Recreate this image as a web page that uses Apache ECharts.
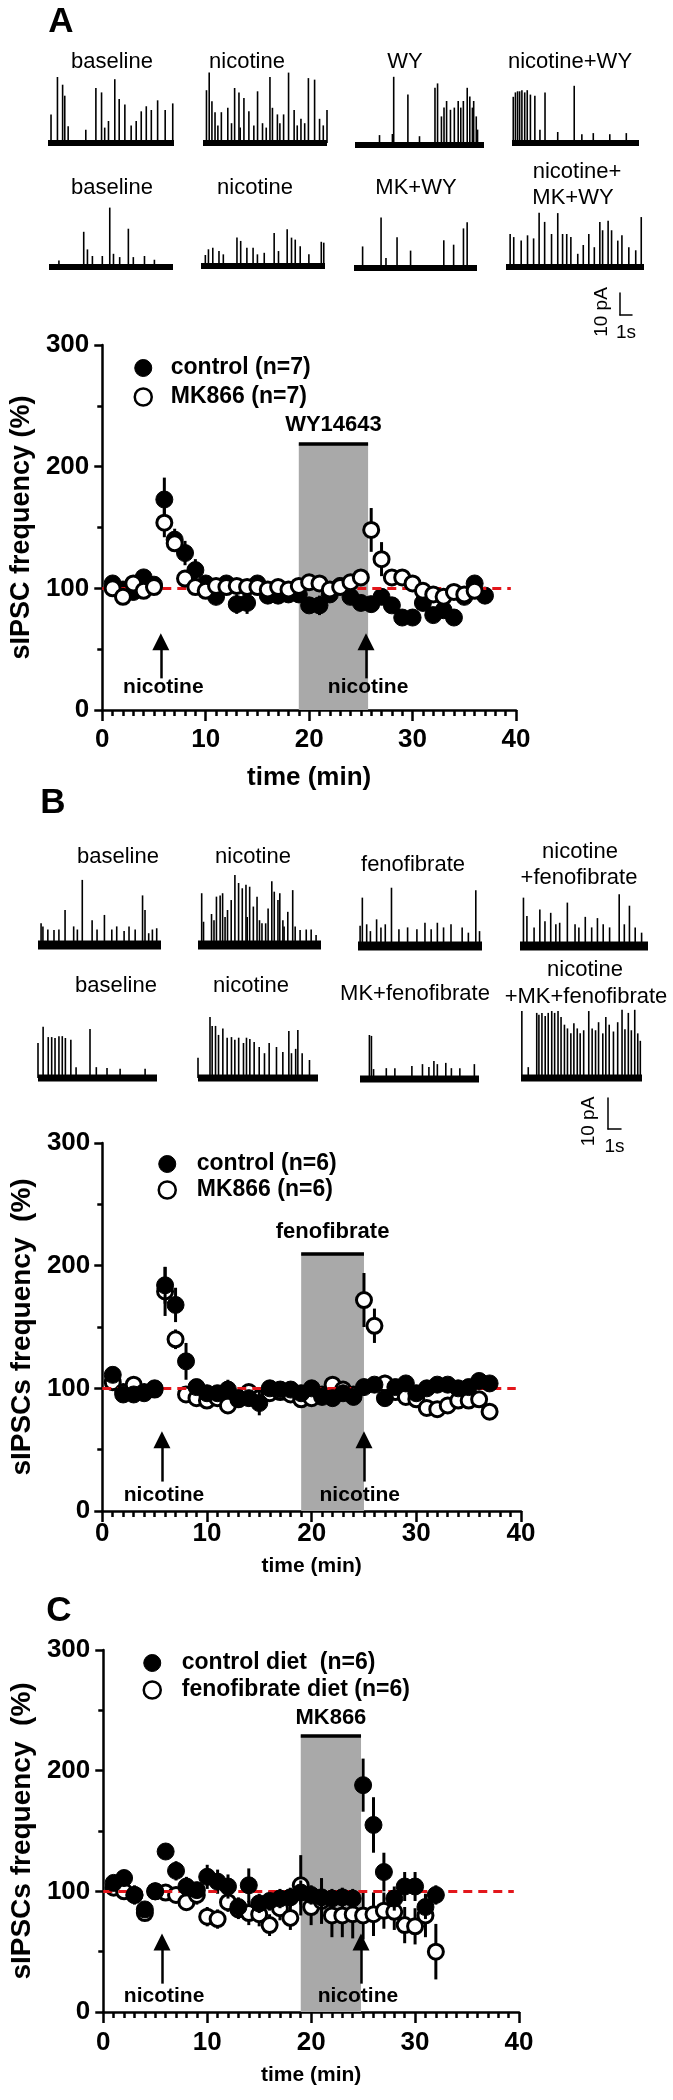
<!DOCTYPE html>
<html><head><meta charset="utf-8">
<script src="https://cdn.jsdelivr.net/npm/echarts@6/dist/echarts.min.js"></script>
<style>html,body{margin:0;padding:0;background:#fff}#c{width:673px;height:2100px}</style>
</head><body><div id="c"></div>
<script>
// ---------------- DATA ----------------
const xTicks = [0, 10, 20, 30, 40];
const xMinorStep = [1];
const yTicks = [0, 100, 200, 300];
const yMinorStep = [50];

// Panel A
const timeA_ctrl = [1,2,3,4,5,6,7,8,9,10,11,12,13,14,15,16,17,18,19,20,21,22,23,24,25,26,27,28,29,30,31,32,33,34,35,36,37];
const A_control = [104,99,97,109,103,173,140,129,115,104,93,104,87,88,104,94,94,95,95,86,86,95,102,93,88,87,93,86,76,76,88,78,82,76,93,104,94];
const A_controlErr = [4,4,5,6,4,18,9,10,9,6,5,5,8,9,5,5,5,5,5,6,8,5,6,5,5,5,6,5,5,5,5,5,5,5,5,5,4];
const timeA_mk = [1,2,3,4,5,6,7,8,9,10,11,12,13,14,15,16,17,18,19,20,21,22,23,24,25,26,27,28,29,30,31,32,33,34,35,36];
const A_MK866 = [100,93,104,98,101,154,137,108,101,98,102,101,102,101,101,99,101,99,102,105,104,99,101,105,109,148,124,109,109,104,98,95,93,97,95,98];
const A_MK866Err = [4,4,4,4,4,12,6,5,5,4,4,4,4,4,4,4,4,4,4,4,4,4,4,4,5,18,14,6,6,5,4,4,4,4,4,4];

// Panel B
const timeB = [1,2,3,4,5,6,7,8,9,10,11,12,13,14,15,16,17,18,19,20,21,22,23,24,25,26,27,28,29,30,31,32,33,34,35,36,37];
const B_control = [111,95,95,96,100,184,168,122,101,96,96,99,92,92,88,100,99,99,96,100,93,92,96,93,101,103,92,101,104,96,100,103,103,100,101,106,104];
const B_controlErr = [5,4,4,4,4,15,14,15,5,5,4,8,5,5,10,4,4,4,4,4,4,4,4,4,5,6,5,6,5,4,4,4,4,4,4,4,4];
const B_MK866 = [105,97,103,97,99,179,140,95,92,90,92,86,91,97,92,96,97,95,91,92,95,103,99,95,172,151,104,97,93,91,84,83,86,90,90,91,81];
const B_MK866Err = [4,4,4,4,4,20,8,5,4,4,4,4,4,6,5,4,4,4,4,4,4,4,4,4,22,14,7,5,5,5,5,5,5,5,5,5,5];

// Panel C
const timeC = [1,2,3,4,5,6,7,8,9,10,11,12,13,14,15,16,17,18,19,20,21,22,23,24,25,26,27,28,29,30,31,32];
const C_control = [107,111,97,85,100,133,117,104,101,112,108,104,87,105,90,92,94,95,99,97,95,94,95,94,188,155,116,94,104,104,87,97];
const C_controlErr = [6,6,8,6,6,6,8,8,6,10,10,10,8,14,8,8,8,8,10,8,8,8,8,8,22,23,16,10,12,12,10,8];
const C_feno = [103,100,97,82,100,99,97,91,97,79,77,91,85,82,81,72,86,78,105,87,92,80,80,81,80,81,84,83,72,71,80,50];
const C_fenoErr = [6,6,6,5,6,6,6,6,8,8,8,8,8,10,10,9,10,10,25,15,19,18,18,20,20,18,15,15,15,15,18,23];

// Example traces: spikes as [time (s), amplitude (pA)]
const TRACE_T = [0, 10];
const traceA_baseline = [[0.24,13],[0.75,30],[1.16,26.5],[1.33,21.5],[1.6,7.6],[3.0,6],[3.8,25],[4.25,23],[4.5,7],[4.8,10],[5.3,29],[5.65,20],[6.1,17.5],[6.6,8],[7.0,10],[7.4,14.4],[7.8,16.7],[8.2,15],[8.7,19.4],[9.3,15],[9.9,18]];
const traceA_nicotine = [[0.28,24],[0.5,32],[0.72,19],[0.97,14],[1.2,8],[1.48,14],[2.0,16],[2.3,9],[2.55,25],[2.9,23],[3.0,7],[3.3,20.5],[3.7,14.4],[4.1,8],[4.4,23.5],[4.8,9],[5.1,7],[5.4,30],[5.6,16],[6.0,13],[6.2,9],[6.5,13],[6.9,32],[7.35,15],[7.6,8],[7.9,11],[8.2,9],[8.5,29.5],[9.0,28.8],[9.4,11],[9.7,8],[10.0,15]];
const traceA_WY = [[1.9,4.5],[2.9,5],[3.0,31],[4.1,23],[5.0,4],[6.2,26],[6.4,28],[6.7,13],[6.9,17],[7.1,20],[7.4,16],[7.7,17],[8.0,20],[8.2,17],[8.4,20],[8.7,26],[8.9,22],[9.1,17],[9.2,20],[9.4,13],[9.5,7]];
const traceA_nicWY = [[0.1,21],[0.27,23],[0.44,23.5],[0.6,23.5],[0.78,24],[1.0,23],[1.2,24],[1.45,22],[1.8,21.5],[2.2,6],[2.6,23],[3.6,5],[4.9,26],[5.5,4],[6.4,4.5],[7.7,4],[9.0,4.5]];
const traceA_baseline2 = [[0.8,3],[2.8,16],[3.1,8],[3.5,5],[4.3,5],[4.9,27],[5.2,6],[5.7,4.5],[6.4,17.4],[6.8,4.5],[7.7,5],[8.5,3.3]];
const traceA_nicotine2 = [[0.35,5],[0.6,7.6],[0.95,8.3],[1.45,6.8],[1.8,5.3],[2.9,12.9],[3.2,11.4],[3.7,8.3],[4.2,8.3],[4.55,5.3],[5.1,6],[5.9,15],[6.25,6.8],[6.95,16.7],[7.3,12.9],[7.6,12],[8.0,9],[8.7,5.3],[9.7,11],[9.9,10.6]];
const traceA_MKWY = [[0.7,9.8],[2.2,23],[2.6,4.5],[3.5,14],[4.6,7.9],[7.3,12.6],[8.1,10.6],[8.9,18],[9.2,20.8]];
const traceA_nicMKWY = [[0.3,15],[0.56,13.6],[1.1,12],[1.56,14.4],[2.0,13],[2.4,24.7],[2.8,20.5],[3.3,15],[3.75,24.5],[4.1,15],[4.4,15],[4.7,13.6],[5.2,6],[5.6,10],[6.0,15],[6.4,9],[6.8,20.5],[7.0,16.7],[7.4,21],[7.65,16.7],[8.1,12],[8.4,14.4],[8.9,9],[9.4,7.6],[9.8,22.7]];

const traceB_baseline = [[0.25,7],[0.4,6],[0.8,5],[1.3,4.8],[1.7,5],[2.2,11.3],[2.9,6],[3.2,5],[3.6,21],[4.4,8],[4.8,5],[5.4,9.7],[6.0,5],[6.4,6],[7.0,4.5],[7.4,6],[7.9,5],[8.5,16],[8.7,11.3],[9.0,3.8],[9.3,5],[9.65,5.4]];
const traceB_nicotine = [[0.3,16.7],[0.45,7.5],[1.1,10],[1.3,8],[1.5,15.6],[1.8,16],[2.0,16.7],[2.2,9],[2.4,11.3],[2.7,14.5],[3.0,22.6],[3.3,20],[3.6,18.3],[3.9,19.4],[4.0,9],[4.2,18.8],[4.5,12.4],[4.8,15.6],[5.0,8],[5.2,7],[5.5,7],[5.7,11.8],[6.0,20.6],[6.2,17.2],[6.5,14.5],[6.65,16.7],[6.9,8],[7.0,6],[7.3,10.7],[7.7,17.7],[7.9,6],[8.3,4.8],[8.8,5],[9.2,5],[9.6,3.2]];
const traceB_feno = [[0.17,6.5],[0.35,15.6],[0.7,7],[1.0,4.8],[1.5,8.6],[1.85,6],[2.2,7],[2.7,18.8],[3.3,5.4],[4.0,6],[4.75,5.4],[5.4,7.5],[5.9,5.4],[6.4,7.5],[6.9,6],[7.5,7],[8.4,6],[8.9,4.3],[9.5,18],[9.8,4.8]];
const traceB_nicFeno = [[0.27,15.6],[0.54,9.7],[1.1,6],[1.55,11.8],[1.95,8],[2.4,10.7],[2.8,7],[3.1,7.5],[3.7,14],[4.3,7],[4.6,6],[5.1,9.4],[5.6,6],[6.05,9],[6.5,7],[7.0,6],[7.75,16.7],[8.15,7],[8.55,13],[9.0,6],[9.5,4.3]];
const traceB_baseline2 = [[0.0,11.3],[0.43,16.5],[0.86,13.2],[1.15,13.2],[1.43,12.9],[1.76,13.5],[2.04,13.5],[2.3,12.9],[2.76,12.3],[3.2,3.5],[4.37,15.8],[4.9,3.5],[5.8,3.2],[6.9,3],[9.0,3]];
const traceB_nicotine2 = [[0.0,6.5],[1.0,19.7],[1.18,16.8],[1.46,16.8],[1.71,13.9],[2.07,16],[2.43,13],[2.79,13.2],[3.07,12.3],[3.39,13],[3.79,11.3],[4.04,13],[4.32,12.6],[4.68,11.6],[5.1,10],[5.54,8],[5.93,11.3],[6.54,10],[7.07,8.4],[7.57,15.2],[7.79,8],[8.14,9.4],[8.32,15.5],[8.68,8],[9.29,5.8]];
const traceB_MKfeno = [[0.79,14.2],[0.96,13.9],[1.14,3.2],[2.21,3.5],[2.93,3.5],[4.36,4.2],[5.25,4.8],[5.79,3.9],[6.21,5.8],[6.5,4.8],[7.21,5.2],[7.68,3.5],[8.39,3.5],[9.61,4.8]];
const traceB_nicMKfeno = [[0.07,21.6],[0.6,3.5],[1.3,21],[1.48,20.4],[1.73,21],[2.0,20],[2.25,21],[2.54,21.6],[2.78,21],[3.06,21.6],[3.31,19.7],[3.59,17.2],[3.84,16],[4.12,14.4],[4.37,17.7],[4.65,16],[4.89,14.4],[5.18,15.4],[5.6,21.6],[5.88,16],[6.16,15.4],[6.41,18],[6.76,14.4],[7.01,19.7],[7.29,17.2],[7.64,15],[7.99,18],[8.35,22],[8.59,15.7],[8.87,21],[9.12,15.4],[9.4,22],[9.65,14.4],[9.86,12]];

const SCALE_SEC = [0, 1];
const SCALE_PA = [0, 10];

// ---------------- BUILD ----------------
const FONT = "'Liberation Sans', Arial, Helvetica, sans-serif";
const grids = [], xAxes = [], yAxes = [], series = [], legends = [], graphics = [];
const TMIN = -3, TMAX = 35;

function addTrace(spikes, x0, x1, yb, k, band) {
  grids.push({left: x0, top: yb - TMAX * k, width: x1 - x0, height: (TMAX - TMIN) * k});
  const g = grids.length - 1;
  xAxes.push({gridIndex: g, type: 'value', min: TRACE_T[0], max: TRACE_T[1], show: false});
  yAxes.push({gridIndex: g, type: 'value', min: TMIN, max: TMAX, show: false});
  const xi = xAxes.length - 1, yi = yAxes.length - 1;
  series.push({type: 'line', xAxisIndex: xi, yAxisIndex: yi, data: [[TRACE_T[0], 0], [TRACE_T[1], 0]],
    symbol: 'none', silent: true, lineStyle: {color: '#000', width: band}});
  series.push({type: 'bar', xAxisIndex: xi, yAxisIndex: yi, data: spikes, barWidth: 1.6, silent: true,
    itemStyle: {color: '#000', opacity: 1}});
}

function addScaleBar(left, top, pxSec, pxPA, gapY, gapX) {
  grids.push({left: left, top: top, width: pxSec, height: 10 * pxPA});
  const g = grids.length - 1;
  const ls = {color: '#000', width: 1.5};
  xAxes.push({gridIndex: g, type: 'value', min: SCALE_SEC[0], max: SCALE_SEC[1], axisLine: {show: true, lineStyle: ls},
    axisTick: {show: false}, axisLabel: {show: false}, splitLine: {show: false},
    name: '1s', nameLocation: 'middle', nameGap: gapX,
    nameTextStyle: {fontSize: 19, color: '#000', fontFamily: FONT}});
  yAxes.push({gridIndex: g, type: 'value', min: SCALE_PA[0], max: SCALE_PA[1], axisLine: {show: true, lineStyle: ls},
    axisTick: {show: false}, axisLabel: {show: false}, splitLine: {show: false},
    name: '10 pA', nameLocation: 'middle', nameGap: gapY, nameRotate: 90,
    nameTextStyle: {fontSize: 19, color: '#000', fontFamily: FONT, padding: [0, 16, 0, 0]}});
}

function addPlot(p) {
  grids.push(p.grid);
  const g = grids.length - 1;
  const bold = {fontWeight: 'bold', color: '#000', fontFamily: FONT};
  const xMin = xTicks[0], xMax = xTicks[xTicks.length - 1], yMin = yTicks[0], yMax = yTicks[yTicks.length - 1];
  xAxes.push({gridIndex: g, type: 'value', position: 'bottom', min: xMin, max: xMax, interval: xMinorStep[0],
    axisLine: {show: false}, axisLabel: {show: false}, splitLine: {show: false},
    axisTick: {show: true, length: 6, lineStyle: {color: '#000', width: 2.5}}});
  yAxes.push({gridIndex: g, type: 'value', position: 'left', min: yMin, max: yMax, interval: yMinorStep[0],
    axisLine: {show: false}, axisLabel: {show: false}, splitLine: {show: false},
    axisTick: {show: true, length: 5, lineStyle: {color: '#000', width: 2.5}}});
  xAxes.push({gridIndex: g, type: 'value', position: 'bottom', min: xMin, max: xMax, interval: xTicks[1] - xTicks[0],
    axisLine: {show: true, onZero: false, lineStyle: {color: '#000', width: 2.5}},
    axisTick: {show: true, length: 11, lineStyle: {color: '#000', width: 2.5}},
    axisLabel: Object.assign({fontSize: 26, margin: p.xLabelMargin}, bold),
    splitLine: {show: false},
    name: 'time (min)', nameLocation: 'middle', nameGap: p.xNameGap,
    nameTextStyle: Object.assign({fontSize: p.xNameSize}, bold)});
  yAxes.push({gridIndex: g, type: 'value', position: 'left', min: yMin, max: yMax, interval: yTicks[1] - yTicks[0],
    axisLine: {show: true, onZero: false, lineStyle: {color: '#000', width: 2.5}},
    axisTick: {show: true, length: 8, lineStyle: {color: '#000', width: 2.5}},
    axisLabel: Object.assign({fontSize: 26, margin: p.yLabelMargin}, bold),
    splitLine: {show: false},
    name: p.yName, nameLocation: 'middle', nameGap: p.yNameGap, nameRotate: 90,
    nameTextStyle: Object.assign({fontSize: p.yNameSize}, bold)});
  const xi = xAxes.length - 1, yi = yAxes.length - 1;

  const lblBold = Object.assign({fontSize: 21}, bold);
  series.push({type: 'scatter', xAxisIndex: xi, yAxisIndex: yi, data: [], z: 1, silent: true,
    markArea: {silent: true, itemStyle: {color: '#a9a9a9', opacity: 1},
      data: [[{coord: [p.shade[0], 0]}, {coord: [p.shade[1], p.shadeTop]}]]},
    markLine: {silent: true, animation: false, symbol: ['none', 'none'],
      label: {show: false},
      lineStyle: {color: '#000', width: 2.5, type: 'solid', opacity: 1},
      data: [
        [{coord: [p.shade[0], p.shadeTop], lineStyle: {width: 3.5},
          label: Object.assign({show: true, position: 'middle', formatter: p.drug, distance: p.drugDist, fontSize: 22}, bold)},
         {coord: [p.shade[1], p.shadeTop]}],
        [{coord: [p.arrows[0], p.arrowY[0]], symbol: 'none'}, {coord: [p.arrows[0], p.arrowY[1]], symbol: 'triangle', symbolSize: 17}],
        [{coord: [p.arrows[1], p.arrowY[0]], symbol: 'none'}, {coord: [p.arrows[1], p.arrowY[1]], symbol: 'triangle', symbolSize: 17}]
      ]},
    markPoint: {silent: true, symbol: 'circle', symbolSize: 1, itemStyle: {color: 'rgba(0,0,0,0)'},
      label: Object.assign({show: true, position: 'inside', formatter: 'nicotine'}, lblBold),
      data: [{coord: [p.nicX[0], p.nicY]}, {coord: [p.nicX[1], p.nicY]}]}
  });

  function errSeries(t, v, e, z) {
    return {type: 'custom', xAxisIndex: xi, yAxisIndex: yi, z: z, silent: true,
      data: t.map((x, i) => [x, v[i] - e[i], v[i] + e[i]]),
      encode: {x: 0, y: [1, 2]},
      renderItem: function (params, api) {
        const a = api.coord([api.value(0), api.value(1)]);
        const b = api.coord([api.value(0), api.value(2)]);
        return {type: 'line', shape: {x1: a[0], y1: a[1], x2: b[0], y2: b[1]},
          style: {stroke: '#000', lineWidth: 3}};
      }};
  }
  const zFill = p.openOnTop ? 3 : 5, zOpen = p.openOnTop ? 5 : 3;
  series.push(errSeries(p.tC, p.ctrl, p.ctrlErr, zFill - 1));
  series.push(errSeries(p.tT, p.trt, p.trtErr, zOpen - 1));
  series.push({type: 'scatter', name: p.names[0], xAxisIndex: xi, yAxisIndex: yi, z: zFill,
    data: p.tC.map((x, i) => [x, p.ctrl[i]]), symbol: 'circle', symbolSize: 17,
    itemStyle: {color: '#000', borderColor: '#000', borderWidth: 1, opacity: 1}});
  series.push({type: 'scatter', name: p.names[1], xAxisIndex: xi, yAxisIndex: yi, z: zOpen,
    data: p.tT.map((x, i) => [x, p.trt[i]]), symbol: 'circle', symbolSize: 15,
    itemStyle: {color: '#fff', borderColor: '#000', borderWidth: 3, opacity: 1}});
  series.push({type: 'scatter', xAxisIndex: xi, yAxisIndex: yi, data: [], z: 10, silent: true,
    markLine: {silent: true, animation: false, symbol: ['none', 'none'], label: {show: false},
      lineStyle: {color: '#e3161b', width: 3, type: [9, 6], opacity: 1},
      data: [[{coord: [0, 100]}, {coord: [39.5, 100]}]]}});

  legends.push({orient: 'vertical', left: p.legend.left, top: p.legend.top, itemWidth: 17, itemHeight: 17,
    itemGap: p.legend.gap, selectedMode: false,
    textStyle: {fontSize: 23, fontWeight: 'bold', color: '#000', fontFamily: FONT, lineHeight: 26, padding: [0, 0, 0, p.legend.pad]},
    data: [{name: p.names[0], icon: 'circle', itemStyle: {color: '#000', borderColor: '#000', borderWidth: 1, opacity: 1}},
           {name: p.names[1], icon: 'circle', itemStyle: {color: '#fff', borderColor: '#000', borderWidth: 2.5, opacity: 1}}]});
}

addTrace(traceA_baseline, 48, 174, 143, 2.2, 6);
addTrace(traceA_nicotine, 203, 327, 143, 2.2, 6);
addTrace(traceA_WY, 355, 484, 145, 2.2, 6);
addTrace(traceA_nicWY, 512, 639, 143, 2.2, 6);
addTrace(traceA_baseline2, 49, 173, 267, 2.2, 6);
addTrace(traceA_nicotine2, 201, 325, 266, 2.2, 6);
addTrace(traceA_MKWY, 354, 477, 268, 2.2, 6);
addTrace(traceA_nicMKWY, 506, 644, 267, 2.2, 6);
addTrace(traceB_baseline, 38, 161, 945, 3.1, 9);
addTrace(traceB_nicotine, 198, 321, 945, 3.1, 9);
addTrace(traceB_feno, 358, 482, 946, 3.1, 9);
addTrace(traceB_nicFeno, 520, 648, 946, 3.1, 9);
addTrace(traceB_baseline2, 38, 157, 1078, 3.1, 7);
addTrace(traceB_nicotine2, 198, 318, 1078, 3.1, 7);
addTrace(traceB_MKfeno, 360, 479, 1079, 3.1, 7);
addTrace(traceB_nicMKfeno, 521, 642, 1078, 3.1, 7);
addScaleBar(620, 293, 12, 2.2, 9, 8);
addScaleBar(608, 1098, 13, 3.1, 10, 8);

addPlot({grid: {left: 99, top: 345, width: 417, height: 365},
  tC: timeA_ctrl, ctrl: A_control, ctrlErr: A_controlErr, tT: timeA_mk, trt: A_MK866, trtErr: A_MK866Err,
  names: ['control (n=7)', 'MK866 (n=7)'], shade: [19, 25.7], shadeTop: 219, drug: 'WY14643', drugDist: 8,
  arrows: [5.66, 25.5], arrowY: [26, 56], nicX: [5.9, 25.7], nicY: 19,
  yName: 'sIPSC frequency (%)', yNameSize: 27, yNameGap: 62, yLabelMargin: 13,
  xNameSize: 26, xNameGap: 55, xLabelMargin: 17,
  legend: {left: 128.5, top: 350, gap: 3, pad: 14}, openOnTop: true});
addPlot({grid: {left: 102, top: 1143, width: 419, height: 368},
  tC: timeB, ctrl: B_control, ctrlErr: B_controlErr, tT: timeB, trt: B_MK866, trtErr: B_MK866Err,
  names: ['control (n=6)', 'MK866 (n=6)'], shade: [19, 25], shadeTop: 210, drug: 'fenofibrate', drugDist: 10,
  arrows: [5.7, 25], arrowY: [24, 58], nicX: [5.9, 24.6], nicY: 13,
  yName: 'sIPSCs frequency  (%)', yNameSize: 28, yNameGap: 60, yLabelMargin: 12,
  xNameSize: 21, xNameGap: 45, xLabelMargin: 10,
  legend: {left: 152.5, top: 1146, gap: 0, pad: 16}, openOnTop: false});
addPlot({grid: {left: 99.5, top: 1650, width: 419.5, height: 362},
  tC: timeC, ctrl: C_control, ctrlErr: C_controlErr, tT: timeC, trt: C_feno, trtErr: C_fenoErr,
  names: ['control diet  (n=6)', 'fenofibrate diet (n=6)'], shade: [19, 24.8], shadeTop: 229.3, drug: 'MK866', drugDist: 6,
  arrows: [5.65, 24.8], arrowY: [23.5, 58], nicX: [5.85, 24.5], nicY: 12.7,
  yName: 'sIPSCs frequency  (%)', yNameSize: 28, yNameGap: 64, yLabelMargin: 13,
  xNameSize: 21, xNameGap: 53, xLabelMargin: 18,
  legend: {left: 137.5, top: 1645, gap: 1, pad: 16}, openOnTop: false});

function txt(s, x, y, size, weight) {
  graphics.push({type: 'text', x: x, y: y, silent: true,
    style: {text: s, fontSize: size, fontWeight: weight || 'normal', fontFamily: FONT, fill: '#000', align: 'center', verticalAlign: 'middle'}});
}
txt('A', 61, 22, 35, 'bold');
txt('B', 53, 803, 35, 'bold');
txt('C', 59, 1611, 35, 'bold');
txt('baseline', 112, 62, 22); txt('nicotine', 247, 62, 22); txt('WY', 405, 62, 22); txt('nicotine+WY', 570, 62, 22);
txt('baseline', 112, 188, 22); txt('nicotine', 255, 188, 22); txt('MK+WY', 416, 188, 22);
txt('nicotine+', 577, 172, 22); txt('MK+WY', 573, 198, 22);
txt('baseline', 118, 857, 22); txt('nicotine', 253, 857, 22); txt('fenofibrate', 413, 865, 22);
txt('nicotine', 580, 852, 22); txt('+fenofibrate', 579, 878, 22);
txt('baseline', 116, 986, 22); txt('nicotine', 251, 986, 22); txt('MK+fenofibrate', 415, 994, 22);
txt('nicotine', 585, 970, 22); txt('+MK+fenofibrate', 586, 997, 22);

const chart = echarts.init(document.getElementById('c'), null, {renderer: 'canvas'});
chart.setOption({
  animation: false,
  backgroundColor: '#fff',
  textStyle: {fontFamily: FONT},
  grid: grids, xAxis: xAxes, yAxis: yAxes, series: series, legend: legends, graphic: graphics
});
</script>
</body></html>
